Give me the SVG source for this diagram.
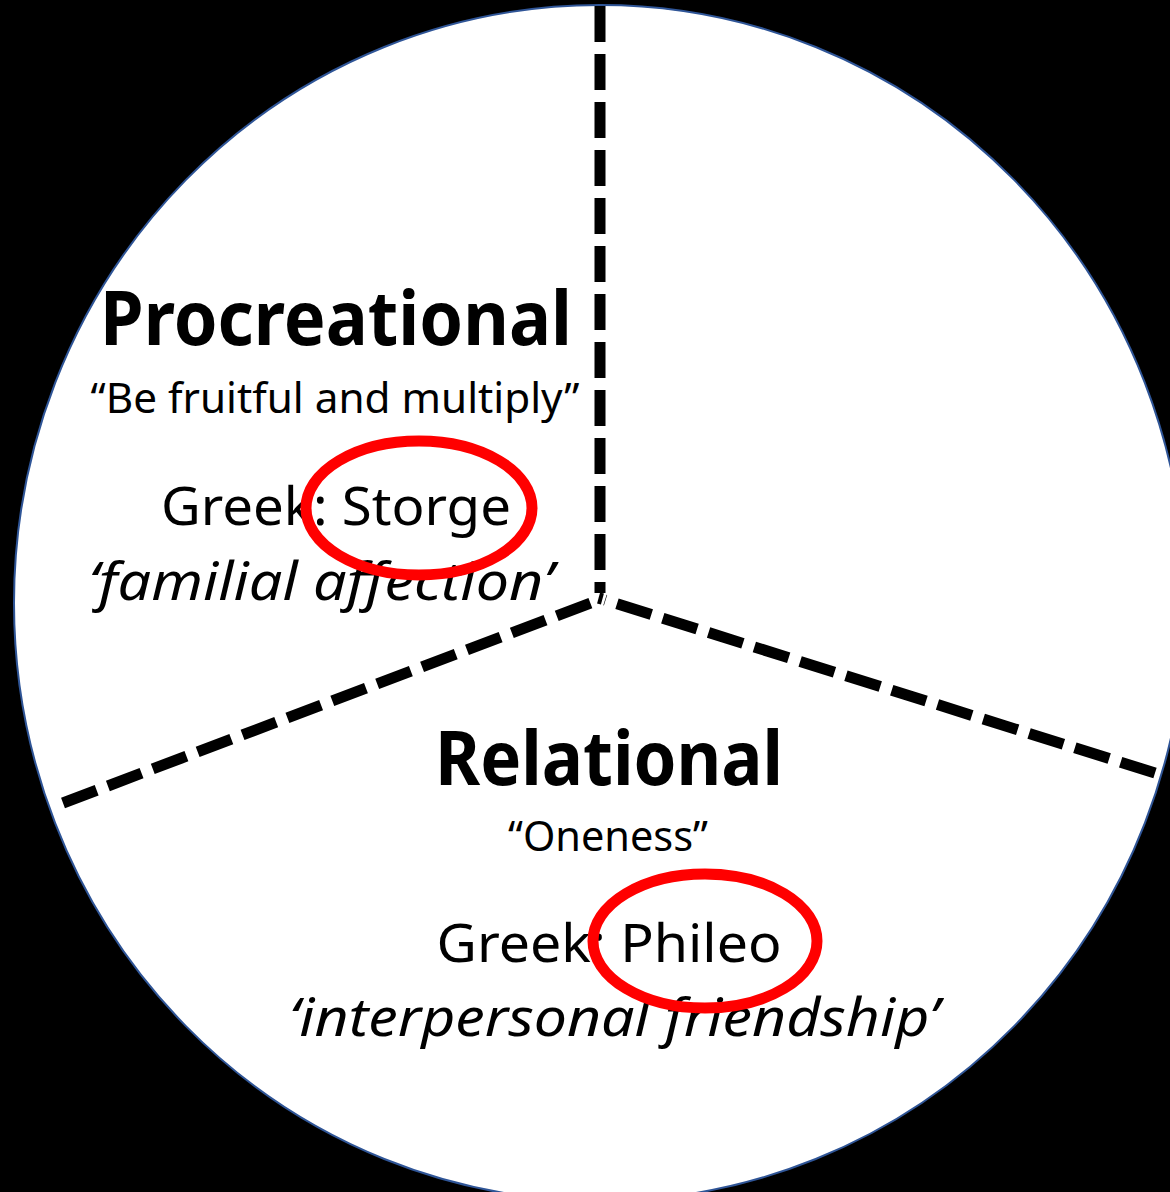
<svg xmlns="http://www.w3.org/2000/svg" width="1170" height="1192" viewBox="0 0 1170 1192">
<style>
.t{font-family:"Noto Sans","Open Sans","Liberation Sans",sans-serif;fill:#000;text-anchor:middle}
.b{font-weight:bold}
.i{font-style:italic}
.dash{stroke:#000;stroke-width:11;stroke-dasharray:36 12;fill:none;stroke-linecap:butt}
.ring{fill:none;stroke:#FF0000;stroke-width:11}
</style>
<rect x="0" y="0" width="1170" height="1192" fill="#000"/>
<g id="circle">
<ellipse cx="600" cy="603" rx="586" ry="598" fill="#fff" stroke="#2F5597" stroke-width="2"/>
</g>
<g id="connectors">
<line class="dash" x1="600" y1="6" x2="600" y2="593"/>
<line class="dash" x1="63" y1="803" x2="596" y2="601"/>
<line class="dash" x1="1155" y1="773" x2="605" y2="600"/>
<line x1="602" y1="593" x2="599" y2="604" stroke="#000" stroke-width="4"/>
</g>
<g id="procreational">
<text class="t b" x="336" y="345" font-size="75" textLength="472" lengthAdjust="spacingAndGlyphs">Procreational</text>
<text class="t" x="335" y="413" font-size="41" textLength="489" lengthAdjust="spacingAndGlyphs">“Be fruitful and multiply”</text>
<text class="t" x="336" y="525" font-size="53" textLength="350" lengthAdjust="spacingAndGlyphs">Greek: Storge</text>
<text class="t i" x="321" y="600" font-size="53" textLength="465" lengthAdjust="spacingAndGlyphs">‘familial affection’</text>
<ellipse class="ring" cx="419" cy="508" rx="113" ry="67"/>
</g>
<g id="relational">
<text class="t b" x="609" y="785" font-size="75" textLength="348" lengthAdjust="spacingAndGlyphs">Relational</text>
<text class="t" x="608" y="851" font-size="41" textLength="200" lengthAdjust="spacingAndGlyphs">“Oneness”</text>
<text class="t" x="609" y="962" font-size="53" textLength="345" lengthAdjust="spacingAndGlyphs">Greek: Phileo</text>
<text class="t i" x="614" y="1036" font-size="53" textLength="650" lengthAdjust="spacingAndGlyphs">‘interpersonal friendship’</text>
<ellipse class="ring" cx="705" cy="941" rx="112" ry="67"/>
</g>
</svg>
